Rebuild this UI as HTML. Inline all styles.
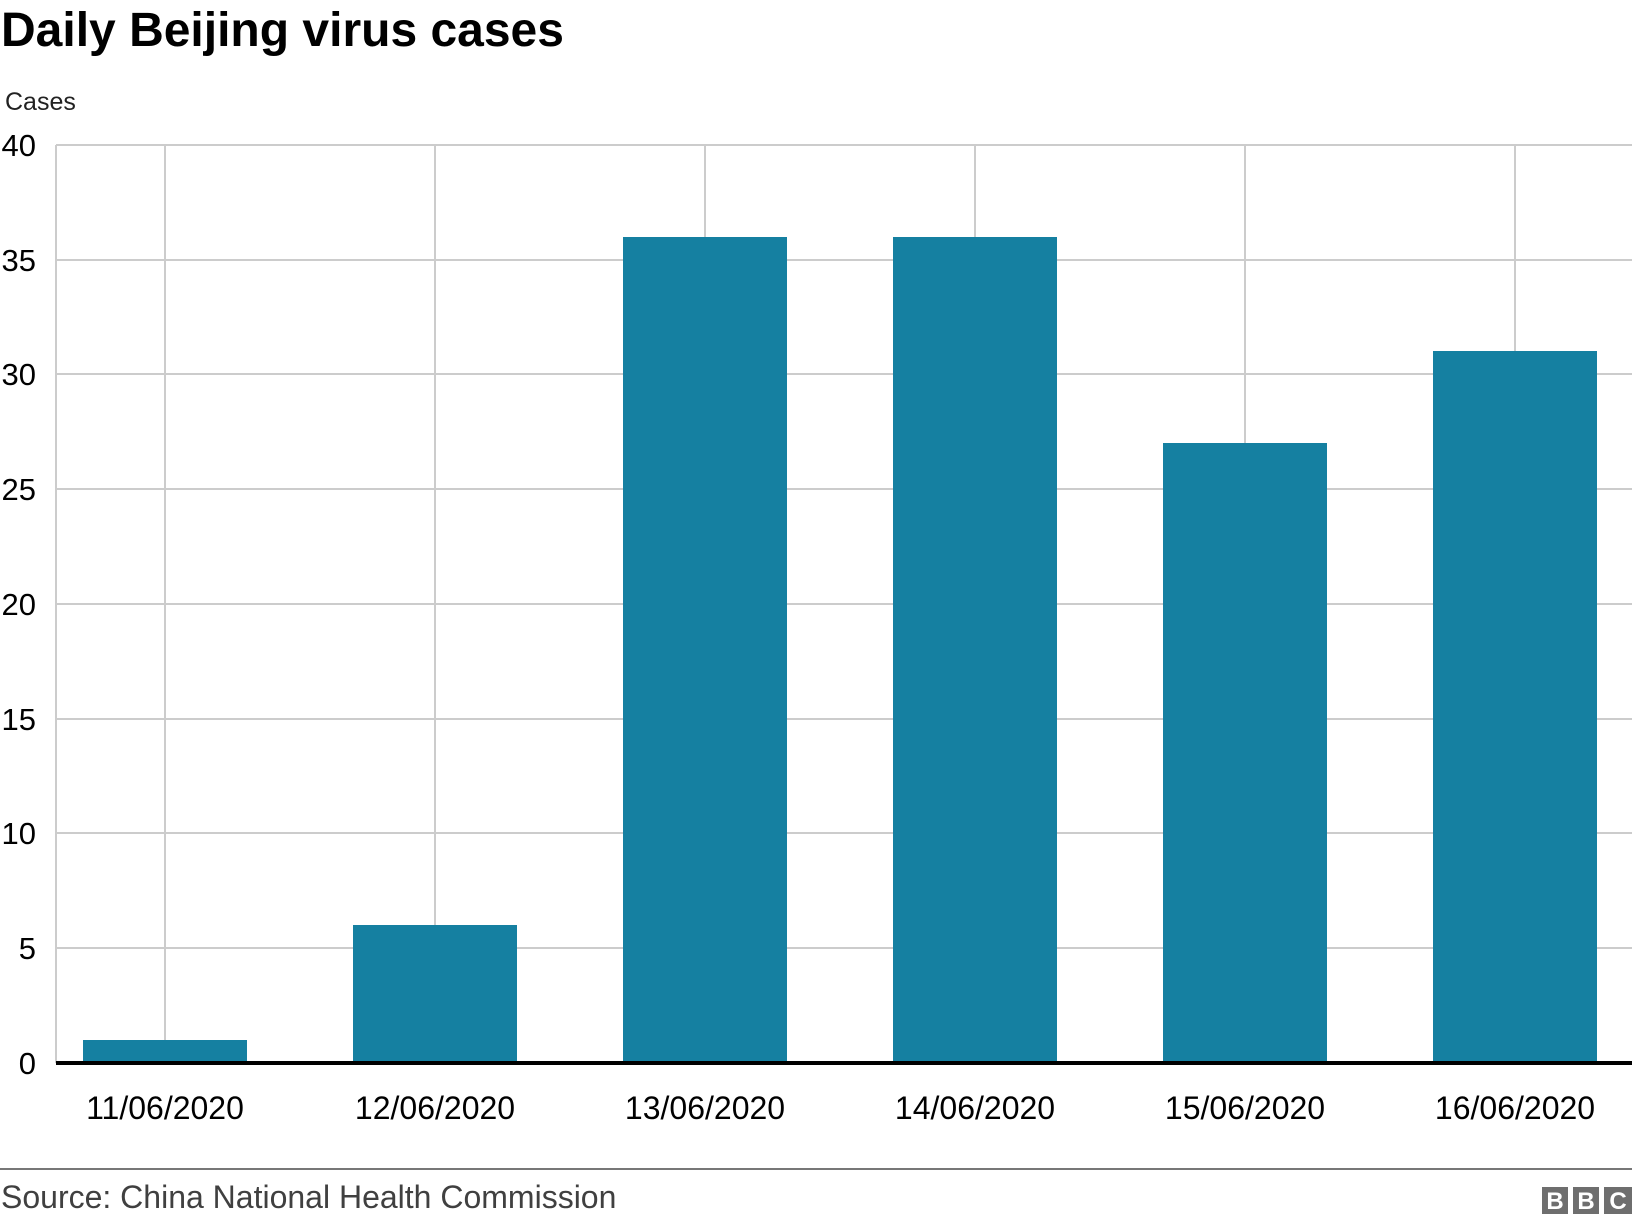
<!DOCTYPE html>
<html><head><meta charset="utf-8"><style>
html,body{margin:0;padding:0;background:#fff;}
svg{display:block;}
text{font-family:"Liberation Sans",Arial,sans-serif;}
</style></head><body>
<svg width="1632" height="1224" viewBox="0 0 1632 1224" xmlns="http://www.w3.org/2000/svg">
<rect width="1632" height="1224" fill="#fff"/>
<text x="1" y="46" font-size="48" font-weight="bold" fill="#000">Daily Beijing virus cases</text>
<text x="5" y="110" font-size="25" fill="#222">Cases</text>
<g stroke="#cccccc" stroke-width="2">
<line x1="56" y1="145" x2="1632" y2="145"/>
<line x1="56" y1="260" x2="1632" y2="260"/>
<line x1="56" y1="374" x2="1632" y2="374"/>
<line x1="56" y1="489" x2="1632" y2="489"/>
<line x1="56" y1="604" x2="1632" y2="604"/>
<line x1="56" y1="719" x2="1632" y2="719"/>
<line x1="56" y1="833" x2="1632" y2="833"/>
<line x1="56" y1="948" x2="1632" y2="948"/>
<line x1="56" y1="145" x2="56" y2="1063"/>
<line x1="165" y1="145" x2="165" y2="1063"/>
<line x1="435" y1="145" x2="435" y2="1063"/>
<line x1="705" y1="145" x2="705" y2="1063"/>
<line x1="975" y1="145" x2="975" y2="1063"/>
<line x1="1245" y1="145" x2="1245" y2="1063"/>
<line x1="1515" y1="145" x2="1515" y2="1063"/>
</g>
<g font-size="31" fill="#000" text-anchor="end">
<text x="36" y="156">40</text>
<text x="36" y="271">35</text>
<text x="36" y="385">30</text>
<text x="36" y="500">25</text>
<text x="36" y="615">20</text>
<text x="36" y="730">15</text>
<text x="36" y="844">10</text>
<text x="36" y="959">5</text>
<text x="36" y="1074">0</text>
</g>
<g fill="#1580a1">
<rect x="83" y="1040" width="164" height="23"/>
<rect x="353" y="925" width="164" height="138"/>
<rect x="623" y="237" width="164" height="826"/>
<rect x="893" y="237" width="164" height="826"/>
<rect x="1163" y="443" width="164" height="620"/>
<rect x="1433" y="351" width="164" height="712"/>
</g>
<line x1="56" y1="1063" x2="1632" y2="1063" stroke="#000" stroke-width="4"/>
<g font-size="32" fill="#000" text-anchor="middle">
<text x="165" y="1119">11/06/2020</text>
<text x="435" y="1119">12/06/2020</text>
<text x="705" y="1119">13/06/2020</text>
<text x="975" y="1119">14/06/2020</text>
<text x="1245" y="1119">15/06/2020</text>
<text x="1515" y="1119">16/06/2020</text>
</g>
<line x1="0" y1="1169" x2="1632" y2="1169" stroke="#777" stroke-width="2"/>
<text x="1" y="1208" font-size="32" fill="#404040">Source: China National Health Commission</text>
<g>
<rect x="1542" y="1187" width="26" height="27" fill="#6e6e6e"/>
<rect x="1573" y="1187" width="26" height="27" fill="#6e6e6e"/>
<rect x="1604" y="1187" width="28" height="27" fill="#6e6e6e"/>
<g font-size="24" font-weight="bold" fill="#fff" text-anchor="middle">
<text x="1555" y="1209">B</text>
<text x="1586" y="1209">B</text>
<text x="1618" y="1209">C</text>
</g>
</g>
</svg>
</body></html>
